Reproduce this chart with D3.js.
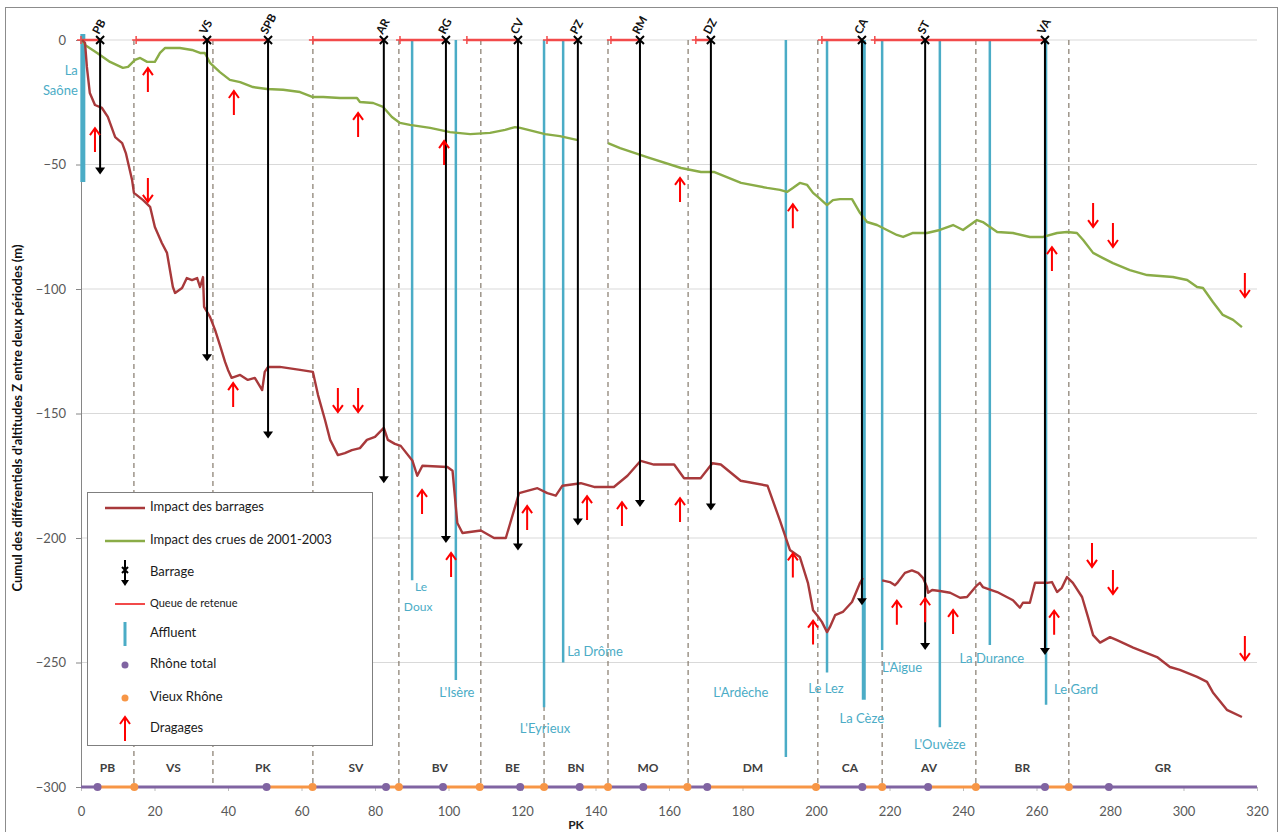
<!DOCTYPE html>
<html><head><meta charset="utf-8">
<script src="https://cdn.jsdelivr.net/npm/d3@7"></script>
<style>body{margin:0;background:#fff;} svg{display:block;font-family:Lato,"Open Sans",sans-serif;}</style>
</head><body><svg id="c" width="1285" height="832"></svg>
<script>
// ---------------- DATA ----------------
const barrageImpact = [[0.3,0],[1.1,-1.2],[1.6,-10.8],[2.4,-21.3],[3.8,-26.1],[5.7,-27.3],[7.3,-30.9],[9.3,-39],[11.2,-41.4],[12.2,-45.4],[13.9,-56.2],[14.4,-61.4],[16.9,-64.3],[18.8,-67],[20.1,-75.1],[22,-81.5],[23.4,-85.5],[25,-99.2],[25.6,-101.6],[27.5,-99.6],[28.8,-95.6],[30.2,-96.4],[31.6,-95.6],[32.4,-99.2],[33.2,-95.2],[33.5,-107.2],[35.1,-111.2],[36.5,-116.5],[37.8,-122.5],[39.2,-129.3],[40,-132.5],[41,-135.7],[43.3,-134.5],[45.4,-136.5],[47.3,-135.7],[49.3,-140.6],[50,-133.3],[50.9,-131.3],[54.1,-131.3],[59.6,-132.5],[63.1,-133.3],[64.5,-142.6],[66.4,-152.6],[67.8,-160.6],[69.9,-166.7],[71.8,-165.9],[73.7,-164.7],[75.9,-163.9],[77.8,-160.6],[80,-159.4],[82.4,-155.8],[83.5,-160.6],[85.4,-162.2],[87,-163],[90.2,-169],[91.5,-175],[92.9,-171],[99.7,-171.5],[101.1,-173],[102.4,-194],[103.8,-198],[108.8,-197],[112.4,-200],[115.6,-200],[119.2,-182],[124.2,-180],[126.9,-182],[129.2,-183],[131,-179],[136,-178],[139.6,-179.5],[145,-179.5],[148.7,-175],[152.3,-169],[155.9,-170.5],[161.4,-170.5],[164.1,-176],[168.6,-176],[171.8,-170],[174.1,-170.5],[179.5,-177],[186.8,-179],[190.2,-193],[192.9,-204.8],[195.6,-207.6],[197.8,-218],[199.2,-229],[200.3,-231],[201.6,-233.7],[203,-237.8],[203.8,-235.7],[205.2,-231],[207.3,-229.7],[209.8,-225.7],[212,-218],[212.8,-216],null,[218,-217],[220.1,-217.7],[221.5,-219],[222.3,-217.7],[224.2,-214],[226.1,-213],[227.8,-214],[229.1,-216],[230.2,-219.7],[230.5,-222],[231.6,-220.9],[233.7,-221.3],[236.5,-222],[239.2,-224],[241.1,-223.7],[243.8,-219],[244.6,-218],[245.4,-219.7],[249.3,-221.7],[253.6,-225],[255.5,-228],[256.3,-226],[258.2,-226],[259.6,-218],[262.9,-218],[264.2,-217.7],[265.6,-221.7],[266.9,-220],[268.3,-215.7],[269.9,-218],[272.4,-223.7],[274,-231.7],[275.4,-239],[277.3,-242],[280,-239.8],[281.9,-241],[286.3,-244],[292.8,-247.8],[296.3,-251.8],[299,-253],[303.7,-255.8],[306.4,-257.8],[308,-262],[311.8,-269],[315.9,-271.9]];

const cruesImpact = [[0.3,0],[1.1,-2],[4.4,-5.2],[7.9,-8.8],[11.4,-11.2],[12.8,-10.8],[14.7,-8],[16.1,-7.2],[18,-8.8],[20.1,-8.8],[21.5,-5.2],[22.9,-3.2],[26.9,-3.2],[30.2,-4],[32.4,-5.2],[33.7,-5.2],[35.1,-9.2],[37.8,-12.9],[40.5,-16],[43.3,-16.9],[46.8,-18.9],[50.6,-19.7],[55,-20],[59.6,-20.9],[63.1,-22.9],[65.9,-22.9],[70.5,-23.3],[75.1,-23.3],[75.9,-24.9],[79.5,-25.3],[82.2,-26.9],[84.6,-30.9],[86.8,-33.3],[89.5,-34.1],[95,-35.3],[100.4,-37],[105.9,-37.8],[111.3,-37.3],[115.4,-36.1],[118.1,-35],[119.5,-35.3],[126.3,-37.8],[130.3,-38.6],[135.2,-40.2],null,[143.4,-41.4],[146.7,-43.4],[152.4,-46.2],[154,-47],[163.3,-51.4],[168.7,-53],[172.2,-53],[179.6,-57.4],[186.7,-59.4],[190.2,-60.2],[192.1,-61],[193.7,-59.4],[195.6,-57.4],[197.6,-58.2],[199.2,-61.4],[200.5,-63],[203,-66.3],[204.6,-64.3],[206.5,-63.9],[209.8,-63.9],[212,-69.5],[213.9,-73.1],[216.6,-74.3],[219.3,-76.3],[222,-78.3],[223.7,-79.1],[226.4,-77.5],[230.2,-77.5],[233.7,-76.3],[237.3,-74.3],[240,-76.3],[243.8,-72.3],[245.4,-73.1],[249.3,-77.1],[253.6,-77.5],[258.2,-79.1],[261.8,-79.1],[265.6,-77.5],[268.3,-77.1],[271,-77.5],[272.7,-80.3],[275.4,-85.5],[278.1,-87.6],[280.8,-89.6],[285.4,-92.4],[290.1,-94.4],[297.1,-95.2],[301,-96.4],[303.7,-99.2],[305.3,-99.6],[308,-105.2],[310.7,-110.4],[313.5,-112.4],[315.9,-115.3]];

const damNames = ["PB","VS","SPB","AR","RG","CV","PZ","RM","DZ","CA","ST","VA"];
const damPK    = [5.2,34.3,50.9,82.4,99.3,118.9,135.2,152.1,171.4,212.5,229.7,262.3];
const damDepth = [-54,-129,-160,-178,-202,-205,-195,-187.5,-189,-227,-245,-247];

const queueStart = [0,15,63.1,86.8,105,126.8,144.2,167.3,201.6,216];
const queueEnd   = [5.2,50.9,82.4,99.3,118.9,135.2,152.1,171.4,212.5,262.3];

const affluentNames = ["La Saône","Le Doux","L'Isère","L'Eyrieux","La Drôme","L'Ardèche","Le Lez","La Cèze","L'Aigue","L'Ouvèze","La Durance","Le Gard"];
const affluentPK    = [0.5,90.1,102,126,131.2,191.8,203,213,218,233.7,247.3,262.6];
const affluentDepth = [-57,-217,-257,-268,-250,-288,-254,-265,-245,-276,-243,-267];

const sectionNames  = ["PB","VS","PK","SV","BV","BE","BN","MO","DM","CA","AV","BR","GR"];
const sectionBounds = [0,14.4,35.9,63.1,86.5,108.8,126,143.4,165.2,200.5,218,243.5,268.8,320];

const rhoneTotalSegs  = [[0,4.5],[14.5,50.5],[63,83],[86.5,98.5],[108.5,119.5],[126,135.7],[143.4,153],[165,170.4],[200,212.6],[218,230.5],[243.5,262.3],[268.8,320]];
const vieuxRhoneSegs  = [[4.5,14.5],[50.5,63],[83,86.5],[98.5,108.5],[119.5,126],[135.7,143.4],[153,165],[170.4,200],[212.6,218],[230.5,243.5],[262.3,268.8]];
const rhoneTotalDots  = [4.5,50.5,83,98.5,119.5,135.7,153,170.4,212.6,230.5,262.3,279.7];
const vieuxRhoneDots  = [14.5,63,86.5,108.5,126,143.4,165,200,218,243.5,268.8];
const baseLevel = -300;

const dragUpPK   = [3.8,18.2,41.6,75.4,98.8,41.4,92.8,100.7,121.4,137.7,147.2,163,163,193.7,193.7,199.2,222,229.7,237.3,264.2,264.8];
const dragUpVal  = [-40.2,-16.1,-25.3,-34.1,-45.4,-142.6,-185.5,-210.8,-192,-188,-190.4,-188.8,-60.2,-70.8,-211,-238,-230,-229,-233.7,-88,-234];
const dragDownPK  = [18.2,69.9,75.4,275.4,280.8,316.7,275.1,280.8,316.7];
const dragDownVal = [-60.2,-144.6,-144.6,-70.3,-78.3,-98.4,-206.8,-217.7,-244.2];

const xTicks = d3.range(0,321,20);
const yTicks = [0,-50,-100,-150,-200,-250,-300];

const legendItems = ["Impact des barrages","Impact des crues de 2001-2003","Barrage","Queue de retenue","Affluent","Rhône total","Vieux Rhône","Dragages"];

// ---------------- STYLE ----------------
const C = {red:"#a8393b", green:"#8aac47", blue:"#4bacc6", purple:"#8064a2", orange:"#f79646", arrow:"#ff0000", queue:"#f24a4a", grid:"#d9d9d9", axisText:"#595959", dash:"#857a6c"};
const labelLayout = {
  "La Saône":{lines:[["La",-5,-110],["Saône",-5,-90]],anchor:"end"},
  "Le Doux":{lines:[["Le",9,8],["Doux",6,28]],anchor:"middle",size:12},
  "L'Isère":{lines:[["L'Isère",1,14]],anchor:"middle"},
  "L'Eyrieux":{lines:[["L'Eyrieux",1,22]],anchor:"middle"},
  "La Drôme":{lines:[["La Drôme",4,-10]],anchor:"start"},
  "L'Ardèche":{lines:[["L'Ardèche",-45,-63]],anchor:"middle"},
  "Le Lez":{lines:[["Le Lez",-1,17]],anchor:"middle"},
  "La Cèze":{lines:[["La Cèze",-2,20]],anchor:"middle"},
  "L'Aigue":{lines:[["L'Aigue",20,19]],anchor:"middle"},
  "L'Ouvèze":{lines:[["L'Ouvèze",0,18]],anchor:"middle"},
  "La Durance":{lines:[["La Durance",2,15]],anchor:"middle"},
  "Le Gard":{lines:[["Le Gard",30,-14]],anchor:"middle"}
};
const affluentWidth = {"La Saône":5,"La Cèze":4};

// ---------------- DRAW ----------------
const svg = d3.select("#c");
const x = d3.scaleLinear().domain([0,320]).range([81,1257]);
const y = d3.scaleLinear().domain([-300,0]).range([787,40]);

svg.append("rect").attr("x",5.5).attr("y",7.5).attr("width",1272).attr("height",830).attr("fill","#fff").attr("stroke","#8c8c8c");

// grid
svg.append("g").selectAll("line").data(yTicks.filter(d=>d>-300)).join("line")
  .attr("x1",x(0)).attr("x2",x(320)).attr("y1",d=>y(d)).attr("y2",d=>y(d))
  .attr("stroke",C.grid).attr("stroke-width",1);

// y axis
const ya = svg.append("g").attr("transform",`translate(${x(0)},0)`)
  .call(d3.axisLeft(y).tickValues(yTicks).tickSize(5).tickSizeOuter(0).tickPadding(10));
ya.select(".domain").attr("stroke","#868686");
ya.selectAll(".tick line").attr("stroke","#868686");
ya.selectAll("text").attr("fill",C.axisText).attr("font-size",13).attr("font-family","Lato,'Open Sans',sans-serif");

// x axis
const xa = svg.append("g").attr("transform",`translate(0,${y(-300)})`)
  .call(d3.axisBottom(x).tickValues(xTicks).tickSize(4).tickSizeOuter(0).tickPadding(16));
xa.select(".domain").attr("stroke","#868686");
xa.selectAll(".tick line").attr("stroke","#bdbdbd");
xa.selectAll("text").attr("fill",C.axisText).attr("font-size",13).attr("font-family","Lato,'Open Sans',sans-serif");

// section dashed lines
svg.append("g").selectAll("line").data(sectionBounds.slice(1,-1)).join("line")
  .attr("x1",d=>x(d)).attr("x2",d=>x(d)).attr("y1",y(0)).attr("y2",y(-300))
  .attr("stroke",C.dash).attr("stroke-width",1.2).attr("stroke-dasharray","5,4");

// section labels
svg.append("g").selectAll("text").data(sectionNames).join("text")
  .attr("x",(d,i)=>x((sectionBounds[i]+sectionBounds[i+1])/2)).attr("y",y(-300)-15)
  .attr("text-anchor","middle").attr("font-size",12).attr("font-weight","bold").attr("fill","#404040").text(d=>d);

// base line segments
const segG = svg.append("g");
segG.selectAll(".vr").data(vieuxRhoneSegs).join("line").attr("class","vr")
  .attr("x1",d=>x(d[0])).attr("x2",d=>x(d[1])).attr("y1",y(baseLevel)).attr("y2",y(baseLevel))
  .attr("stroke",C.orange).attr("stroke-width",3);
segG.selectAll(".rt").data(rhoneTotalSegs).join("line").attr("class","rt")
  .attr("x1",d=>x(d[0])).attr("x2",d=>x(d[1])).attr("y1",y(baseLevel)).attr("y2",y(baseLevel))
  .attr("stroke",C.purple).attr("stroke-width",3);
segG.selectAll(".rtd").data(rhoneTotalDots).join("circle").attr("class","rtd")
  .attr("cx",d=>x(d)).attr("cy",y(baseLevel)).attr("r",4).attr("fill",C.purple);
segG.selectAll(".vrd").data(vieuxRhoneDots).join("circle").attr("class","vrd")
  .attr("cx",d=>x(d)).attr("cy",y(baseLevel)).attr("r",4).attr("fill",C.orange);

// affluents
const affG = svg.append("g");
affluentNames.forEach((n,i)=>{
  affG.append("line").attr("x1",x(affluentPK[i])).attr("x2",x(affluentPK[i]))
    .attr("y1",y(0)-(n==="La Saône"?6:0)).attr("y2",y(affluentDepth[i]))
    .attr("stroke",C.blue).attr("stroke-width",affluentWidth[n]||2.5);
  const L = labelLayout[n];
  L.lines.forEach(l=>{
    affG.append("text").attr("x",x(affluentPK[i])+l[1]).attr("y",y(affluentDepth[i])+l[2])
      .attr("dominant-baseline","middle").attr("text-anchor",L.anchor)
      .attr("font-size",L.size||13).attr("fill",C.blue).text(l[0]);
  });
});

// queue de retenue
const qG = svg.append("g");
queueStart.forEach((s,i)=>{
  qG.append("line").attr("x1",x(s)).attr("x2",x(queueEnd[i])).attr("y1",y(0)).attr("y2",y(0))
    .attr("stroke",C.queue).attr("stroke-width",2.5);
  qG.append("path").attr("d",`M${x(s)-4},${y(0)}h8M${x(s)},${y(0)-4}v8`).attr("stroke",C.queue).attr("stroke-width",1.5);
});

// lines
const line = d3.line().defined(d=>d!==null).x(d=>x(d[0])).y(d=>y(d[1]));
svg.append("path").datum(cruesImpact).attr("d",line).attr("fill","none").attr("stroke",C.green).attr("stroke-width",2.4).attr("stroke-linejoin","round");
svg.append("path").datum(barrageImpact).attr("d",line).attr("fill","none").attr("stroke",C.red).attr("stroke-width",2.4).attr("stroke-linejoin","round");

// dams
const dG = svg.append("g");
damNames.forEach((n,i)=>{
  const xx = x(damPK[i]), y0 = y(0), y1 = y(damDepth[i]);
  dG.append("line").attr("x1",xx).attr("x2",xx).attr("y1",y0).attr("y2",y1-6).attr("stroke","#000").attr("stroke-width",2);
  dG.append("path").attr("d",`M${xx-5},${y1-7}L${xx+5},${y1-7}L${xx},${y1}Z`).attr("fill","#000");
  dG.append("path").attr("d",`M${xx-4},${y0-4}L${xx+4},${y0+4}M${xx-4},${y0+4}L${xx+4},${y0-4}`).attr("stroke","#000").attr("stroke-width",2);
  dG.append("text").attr("transform",`translate(${xx-1},${y0-5}) rotate(-62)`)
    .attr("font-size",11.5).attr("font-weight","bold").attr("fill","#111").text(n);
});

// dragages arrows
const aG = svg.append("g").attr("stroke",C.arrow).attr("stroke-width",2).attr("fill","none");
dragUpPK.forEach((p,i)=>{
  const cx=x(p), cy=y(dragUpVal[i]);
  aG.append("path").attr("d",`M${cx},${cy+12}L${cx},${cy-11}M${cx-5},${cy-5}L${cx},${cy-12}L${cx+5},${cy-5}`);
});
dragDownPK.forEach((p,i)=>{
  const cx=x(p), cy=y(dragDownVal[i]);
  aG.append("path").attr("d",`M${cx},${cy-12}L${cx},${cy+11}M${cx-5},${cy+5}L${cx},${cy+12}L${cx+5},${cy+5}`);
});

// y title
svg.append("text").attr("transform","translate(22,418) rotate(-90)").attr("text-anchor","middle")
  .attr("font-size",13).attr("font-weight","bold").attr("fill","#111")
  .text("Cumul des différentiels d'altitudes Z entre deux périodes (m)");
// x title
svg.append("text").attr("x",576).attr("y",829).attr("text-anchor","middle").attr("font-size",12).attr("font-weight","bold").attr("fill","#222").text("PK");

// legend
const lg = svg.append("g").attr("transform","translate(87,492)");
lg.append("rect").attr("x",0.5).attr("y",0.5).attr("width",285).attr("height",253).attr("fill","#fff").attr("stroke","#7f7f7f");
const rowY = [16,49,81,112,142,173,206,237];
const sx = 38;
legendItems.forEach((t,i)=>{
  lg.append("text").attr("x",63).attr("y",rowY[i]).attr("dominant-baseline","middle")
    .attr("font-size",i===3?11:13).attr("fill","#1a1a1a").text(t);
});
lg.append("line").attr("x1",18).attr("x2",58).attr("y1",rowY[0]).attr("y2",rowY[0]).attr("stroke",C.red).attr("stroke-width",2.5);
lg.append("line").attr("x1",18).attr("x2",58).attr("y1",rowY[1]).attr("y2",rowY[1]).attr("stroke",C.green).attr("stroke-width",2.5);
lg.append("line").attr("x1",sx).attr("x2",sx).attr("y1",rowY[2]-13).attr("y2",rowY[2]+8).attr("stroke","#000").attr("stroke-width",2);
lg.append("path").attr("d",`M${sx-4},${rowY[2]+7}L${sx+4},${rowY[2]+7}L${sx},${rowY[2]+13}Z`).attr("fill","#000");
lg.append("path").attr("d",`M${sx-3},${rowY[2]-6}L${sx+3},${rowY[2]}M${sx-3},${rowY[2]}L${sx+3},${rowY[2]-6}`).attr("stroke","#000").attr("stroke-width",2);
lg.append("line").attr("x1",28).attr("x2",58).attr("y1",rowY[3]).attr("y2",rowY[3]).attr("stroke",C.queue).attr("stroke-width",2);
lg.append("line").attr("x1",sx).attr("x2",sx).attr("y1",rowY[4]-12).attr("y2",rowY[4]+12).attr("stroke",C.blue).attr("stroke-width",3);
lg.append("circle").attr("cx",sx).attr("cy",rowY[5]).attr("r",3.5).attr("fill",C.purple);
lg.append("circle").attr("cx",sx).attr("cy",rowY[6]).attr("r",3.5).attr("fill",C.orange);
lg.append("path").attr("d",`M${sx},${rowY[7]+12}L${sx},${rowY[7]-11}M${sx-5},${rowY[7]-5}L${sx},${rowY[7]-12}L${sx+5},${rowY[7]-5}`).attr("stroke",C.arrow).attr("stroke-width",2).attr("fill","none");
</script></body></html>
